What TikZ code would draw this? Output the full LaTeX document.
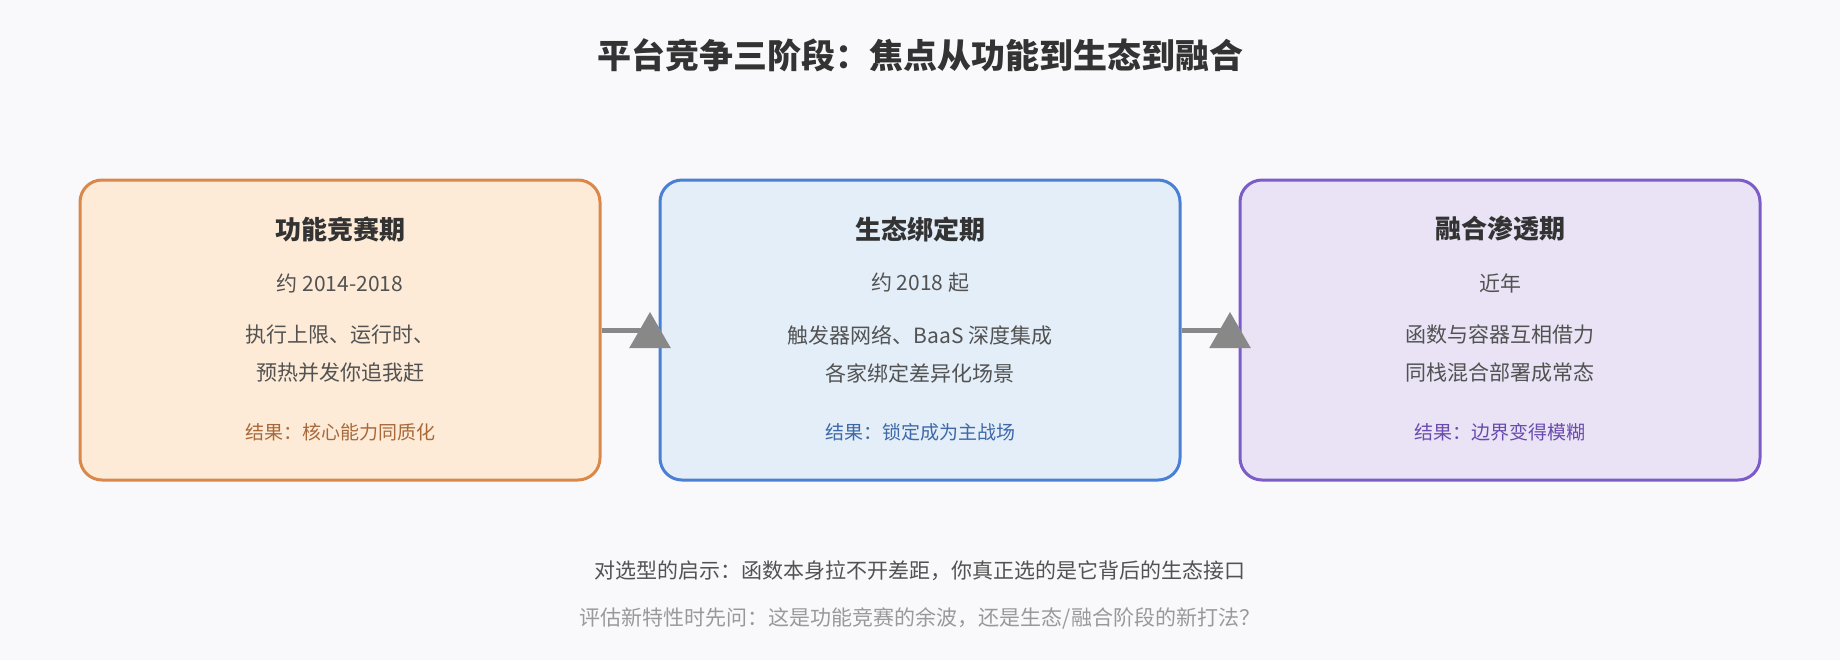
\documentclass[tikz,border=0pt]{standalone}
\usepackage{fontspec}
\usetikzlibrary{shapes.geometric}
\setmainfont{Noto Sans CJK SC}
\definecolor{bgc}{HTML}{F9F9FB}
\definecolor{orfill}{HTML}{FDEBD7}
\definecolor{ordraw}{HTML}{D9884A}
\definecolor{orres}{HTML}{A8693A}
\definecolor{blfill}{HTML}{E3EEF8}
\definecolor{bldraw}{HTML}{4A7FD6}
\definecolor{blres}{HTML}{3E68A8}
\definecolor{pufill}{HTML}{E9E3F5}
\definecolor{pudraw}{HTML}{7B5CC9}
\definecolor{pures}{HTML}{6A4BAE}
\definecolor{txt}{HTML}{333333}
\definecolor{arr}{HTML}{888888}
\begin{document}
\begin{tikzpicture}
		[x=0.5pt,y=-0.5pt,
		stage/.style={draw,line width=1.5pt,rounded corners=11pt,minimum width=260pt,minimum height=150pt},
		head/.style={font=\fontsize{13}{15}\selectfont\bfseries,text=txt},
		body/.style={font=\fontsize{10.5}{19}\selectfont,text=txt!85!white,align=center},
		res/.style={font=\fontsize{9.5}{12}\selectfont},
		tip/.style={fill=arr,regular polygon,regular polygon sides=3,inner sep=0pt,minimum size=24pt}]
		\fill[bgc] (0,0) rectangle (1840,660);
		\node[font=\fontsize{17}{20}\selectfont\bfseries,text=txt] (title) at (920,55) {平台竞争三阶段：焦点从功能到生态到融合};
		\node[stage,fill=orfill,draw=ordraw,name=s1] at (340,330) {};
		\node[stage,fill=blfill,draw=bldraw,name=s2] at (920,330) {};
		\node[stage,fill=pufill,draw=pudraw,name=s3] at (1500,330) {};
		% box texts
		\node[head] (h1) at (340,229) {功能竞赛期};
		\node[body] (d1) at (340,283) {约 2014-2018};
		\node[body] (b1) at (340,354) {执行上限、运行时、\\ 预热并发你追我赶};
		\node[res,text=orres] (r1) at (340,432) {结果：核心能力同质化};
		\node[head] (h2) at (920,229) {生态绑定期};
		\node[body] (d2) at (920,283) {约 2018 起};
		\node[body] (b2) at (920,354) {触发器网络、BaaS 深度集成\\各家绑定差异化场景};
		\node[res,text=blres] (r2) at (920,432) {结果：锁定成为主战场};
		\node[head] (h3) at (1500,229) {融合渗透期};
		\node[body] (d3) at (1500,283) {近年};
		\node[body] (b3) at (1500,354) {函数与容器互相借力\\同栈混合部署成常态};
		\node[res,text=pures] (r3) at (1500,432) {结果：边界变得模糊};
		% connectors
		\draw[arr,line width=2.5pt] (s1.east) -- (s2.west);
		\draw[arr,line width=2.5pt] (s2.east) -- (s3.west);
		\node[tip,name=t1] at (650,336) {};
		\node[tip,name=t2] at (1230,336) {};
		% bottom notes
		\node[body] (n1) at (920,571) {对选型的启示：函数本身拉不开差距，你真正选的是它背后的生态接口};
		\node[body,text=txt!50!white] (n2) at (920,618) {评估新特性时先问：这是功能竞赛的余波，还是生态/融合阶段的新打法？};
	\end{tikzpicture}
\end{document}
